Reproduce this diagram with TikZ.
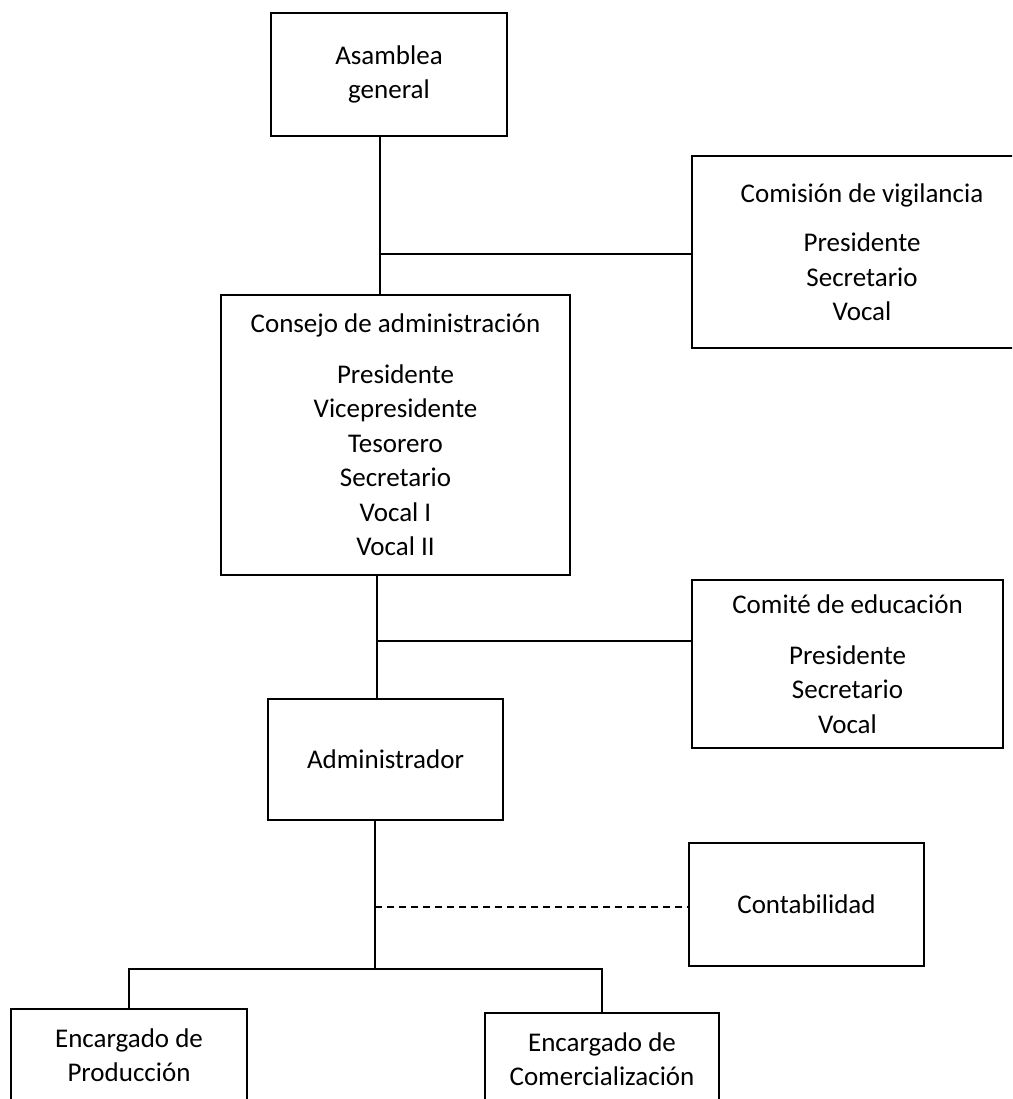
\documentclass[tikz,border=0pt]{standalone}
\usepackage{fontspec}
\setmainfont{Carlito}
\usetikzlibrary{positioning,calc}

\begin{document}
\begin{tikzpicture}[x=1pt,y=-1pt,
		orgbox/.style={draw,line width=1.4pt,align=center,inner sep=0pt,font=\fontsize{27}{34.5}\selectfont},
		link/.style={line width=1.3pt}]
	\clip (0,0) rectangle (1012,1099);
	\node[orgbox,minimum width=236pt,minimum height=123pt] (asamblea) at (389,74.5) {Asamblea\\general};
	\node[orgbox,minimum width=340pt,minimum height=192pt] (vigilancia) at (862,252) {Comisión de vigilancia\\[15pt]Presidente\\Secretario\\Vocal};
	\node[orgbox,minimum width=349pt,minimum height=280pt] (consejo) at (395.5,435) {Consejo de administración\\[16pt]Presidente\\Vicepresidente\\Tesorero\\Secretario\\Vocal I\\Vocal II};
	\node[orgbox,minimum width=311pt,minimum height=168pt] (educacion) at (847.5,664) {Comité de educación\\[16pt]Presidente\\Secretario\\Vocal};
	\node[orgbox,minimum width=235pt,minimum height=121pt] (admin) at (385.5,759.5) {Administrador};
	\node[orgbox,minimum width=235pt,minimum height=123pt] (conta) at (806.5,904.5) {Contabilidad};
	\node[orgbox,minimum width=236pt,minimum height=92pt] (produccion) at (129,1055) {Encargado de\\Producción};
	\node[orgbox,minimum width=234pt,minimum height=92pt] (comercial) at (602,1059) {Encargado de\\Comercialización};

	\coordinate (j1) at (380,254);
	\coordinate (j2) at (377,641);
	\coordinate (j3) at (375,907);
	\coordinate (j4) at (375,969);

	\draw[link] (asamblea.south -| j1) -- (consejo.north -| j1);
	\draw[link] (j1) -- (j1 -| vigilancia.west);
	\draw[link] (consejo.south -| j2) -- (admin.north -| j2);
	\draw[link] (j2) -- (j2 -| educacion.west);
	\draw[link] (admin.south -| j3) -- (j4);
	\draw[link,dash pattern=on 7pt off 5pt] (j3) -- (j3 -| conta.west);
	\draw[link] (produccion.north) |- (j4) -| (comercial.north);
\end{tikzpicture}
\end{document}
